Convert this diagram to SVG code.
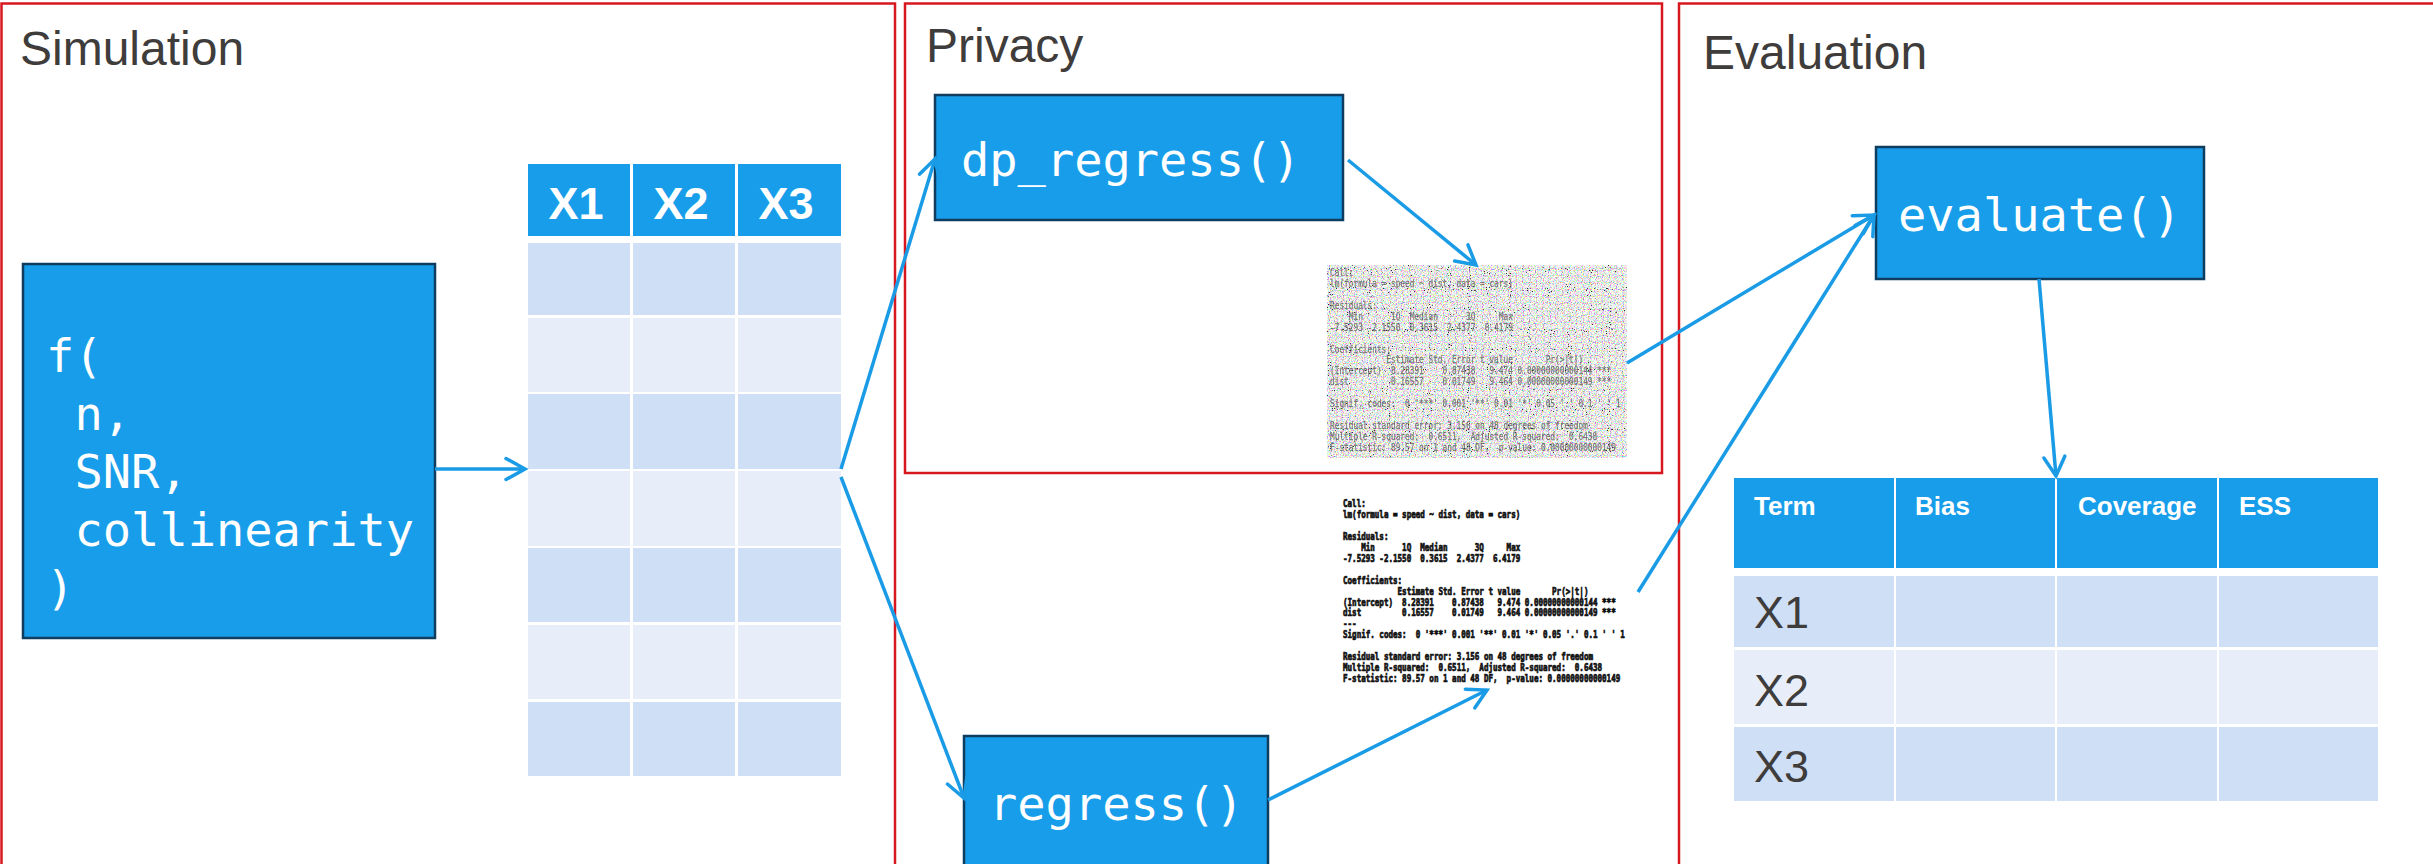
<svg xmlns="http://www.w3.org/2000/svg" width="2433" height="864" viewBox="0 0 2433 864">
  <style>
    .frame { fill: none; stroke: #d7191f; stroke-width: 2.5; }
    .title { font-family: "Liberation Sans", Arial, sans-serif; font-size: 48px; fill: #3f3c3c; }
    .fn { fill: #189dea; stroke: #0f3d5f; stroke-width: 2.5; }
    .code { font-family: "DejaVu Sans Mono", monospace; font-size: 47px; fill: #ffffff; }
    .hdr { fill: #189dea; }
    .rowA { fill: #cfdff5; }
    .rowB { fill: #e7eef9; }
    .hdrtxt { font-family: "Liberation Sans", Arial, sans-serif; font-weight: bold; fill: #ffffff; }
    .rowtxt { font-family: "Liberation Sans", Arial, sans-serif; font-size: 45px; fill: #3f3c3c; }
    .conn { fill: none; stroke: #1a9be6; stroke-width: 3.5; marker-end: url(#chev); }
    .rout { font-family: "DejaVu Sans Mono", monospace; font-size: 10px; white-space: pre; }
    .rclean { font-weight: bold; fill: #111111; stroke: #111111; stroke-width: 0.7; }
    .rnoisy { fill: #3a3a3a; stroke: #3a3a3a; stroke-width: 0.25; opacity: 0.9; }
  </style>
  <defs>
    <marker id="chev" markerUnits="userSpaceOnUse" markerWidth="26" markerHeight="26" viewBox="0 0 26 26" refX="22" refY="13" orient="auto">
      <path d="M3,2.5 L22,13 L3,23.5" fill="none" stroke="#1a9be6" stroke-width="3.5" stroke-linecap="round" stroke-linejoin="miter"/>
    </marker>
    <!-- pastel colour grain -->
    <filter id="grain" x="0" y="0" width="100%" height="100%" color-interpolation-filters="sRGB">
      <feTurbulence type="fractalNoise" baseFrequency="0.85" numOctaves="1" seed="7" result="n"/>
      <feColorMatrix in="n" type="matrix" values="2.1 0 0 0 -0.08  0 2.1 0 0 -0.08  0 0 2.1 0 -0.08  0 0 0 0 1" result="c"/>
      <feComposite in="c" in2="SourceGraphic" operator="in"/>
    </filter>
    <!-- sparse dark specks -->
    <filter id="specks" x="0" y="0" width="100%" height="100%" color-interpolation-filters="sRGB">
      <feTurbulence type="fractalNoise" baseFrequency="0.95" numOctaves="1" seed="23" result="n"/>
      <feColorMatrix in="n" type="matrix" values="0 0 0 0 0.2  0 0 0 0 0.2  0 0 0 0 0.22  -25 0 0 0 7.2" result="c"/>
      <feComposite in="c" in2="SourceGraphic" operator="in"/>
    </filter>
  </defs>

  <rect width="2433" height="864" fill="#ffffff"/>

  <!-- section frames -->
  <g id="frames">
    <rect class="frame" x="1.5" y="3.5" width="893.5" height="900"/>
    <rect class="frame" x="905" y="3.5" width="757" height="469.5"/>
    <rect class="frame" x="1679" y="3.5" width="800" height="900"/>
  </g>

  <g id="titles">
    <text class="title" x="20" y="65">Simulation</text>
    <text class="title" x="926" y="62">Privacy</text>
    <text class="title" x="1703" y="69">Evaluation</text>
  </g>

  <!-- simulation function -->
  <g id="simulate">
    <rect class="fn" x="23" y="264" width="412" height="374"/>
    <text class="code" x="46" y="372">f(</text>
    <text class="code" x="74.5" y="430">n,</text>
    <text class="code" x="74.5" y="488">SNR,</text>
    <text class="code" x="74.5" y="546">collinearity</text>
    <text class="code" x="46" y="604">)</text>
  </g>

  <!-- simulated data -->
  <g id="data-table">
    <rect class="hdr" x="528" y="164" width="102" height="72"/>
    <rect class="hdr" x="633" y="164" width="102" height="72"/>
    <rect class="hdr" x="738" y="164" width="103" height="72"/>
    <text class="hdrtxt" x="576" y="219" font-size="45" text-anchor="middle">X1</text>
    <text class="hdrtxt" x="681" y="219" font-size="45" text-anchor="middle">X2</text>
    <text class="hdrtxt" x="786" y="219" font-size="45" text-anchor="middle">X3</text>
    <g class="rowA">
      <rect x="528" y="243" width="102" height="72"/><rect x="633" y="243" width="102" height="72"/><rect x="738" y="243" width="103" height="72"/>
      <rect x="528" y="394" width="102" height="75"/><rect x="633" y="394" width="102" height="75"/><rect x="738" y="394" width="103" height="75"/>
      <rect x="528" y="548" width="102" height="74"/><rect x="633" y="548" width="102" height="74"/><rect x="738" y="548" width="103" height="74"/>
      <rect x="528" y="702" width="102" height="74"/><rect x="633" y="702" width="102" height="74"/><rect x="738" y="702" width="103" height="74"/>
    </g>
    <g class="rowB">
      <rect x="528" y="318" width="102" height="74"/><rect x="633" y="318" width="102" height="74"/><rect x="738" y="318" width="103" height="74"/>
      <rect x="528" y="471" width="102" height="75"/><rect x="633" y="471" width="102" height="75"/><rect x="738" y="471" width="103" height="75"/>
      <rect x="528" y="625" width="102" height="74"/><rect x="633" y="625" width="102" height="74"/><rect x="738" y="625" width="103" height="74"/>
    </g>
  </g>

  <!-- private regression -->
  <g id="dp-regress">
    <rect class="fn" x="935" y="95" width="408" height="125"/>
    <text class="code" x="961" y="176">dp_regress()</text>
  </g>

  <!-- noisy model summary -->
  <g id="noisy-summary">
    <rect x="1327" y="265" width="300" height="193" fill="#ffffff" filter="url(#grain)"/>
    <g transform="translate(1330,0) scale(0.78,1)">
      <text class="rout rnoisy" x="0" y="276.5">Call:</text>
      <text class="rout rnoisy" x="0" y="287.4">lm(formula = speed ~ dist, data = cars)</text>
      <text class="rout rnoisy" x="0" y="309.1">Residuals:</text>
      <text class="rout rnoisy" x="0" y="320">    Min      1Q  Median      3Q     Max</text>
      <text class="rout rnoisy" x="0" y="330.9">-7.5293 -2.1550  0.3615  2.4377  6.4179</text>
      <text class="rout rnoisy" x="0" y="352.6">Coefficients:</text>
      <text class="rout rnoisy" x="0" y="363.5">            Estimate Std. Error t value       Pr(&gt;|t|)</text>
      <text class="rout rnoisy" x="0" y="374.4">(Intercept)  8.28391    0.87438   9.474 0.00000000000144 ***</text>
      <text class="rout rnoisy" x="0" y="385.3">dist         0.16557    0.01749   9.464 0.00000000000149 ***</text>
      <text class="rout rnoisy" x="0" y="407">Signif. codes:  0 '***' 0.001 '**' 0.01 '*' 0.05 '.' 0.1 ' ' 1</text>
      <text class="rout rnoisy" x="0" y="428.8">Residual standard error: 3.156 on 48 degrees of freedom</text>
      <text class="rout rnoisy" x="0" y="439.7">Multiple R-squared:  0.6511,  Adjusted R-squared:  0.6438</text>
      <text class="rout rnoisy" x="0" y="450.6">F-statistic: 89.57 on 1 and 48 DF,  p-value: 0.00000000000149</text>
    </g>
    <rect x="1327" y="265" width="300" height="193" fill="#ffffff" filter="url(#grain)" opacity="0.3"/>
    <rect x="1327" y="265" width="300" height="193" fill="#ffffff" filter="url(#specks)"/>
  </g>

  <!-- plain regression -->
  <g id="regress">
    <rect class="fn" x="964" y="736" width="304" height="150"/>
    <text class="code" x="989" y="820">regress()</text>
  </g>

  <!-- plain model summary -->
  <g id="clean-summary" transform="translate(1343,0) scale(0.755,1)">
    <text class="rout rclean" x="0" y="507">Call:</text>
    <text class="rout rclean" x="0" y="518">lm(formula = speed ~ dist, data = cars)</text>
    <text class="rout rclean" x="0" y="539.9">Residuals:</text>
    <text class="rout rclean" x="0" y="550.8">    Min      1Q  Median      3Q     Max</text>
    <text class="rout rclean" x="0" y="561.8">-7.5293 -2.1550  0.3615  2.4377  6.4179</text>
    <text class="rout rclean" x="0" y="583.7">Coefficients:</text>
    <text class="rout rclean" x="0" y="594.6">            Estimate Std. Error t value       Pr(&gt;|t|)</text>
    <text class="rout rclean" x="0" y="605.6">(Intercept)  8.28391    0.87438   9.474 0.00000000000144 ***</text>
    <text class="rout rclean" x="0" y="616.5">dist         0.16557    0.01749   9.464 0.00000000000149 ***</text>
    <text class="rout rclean" x="0" y="627.5">---</text>
    <text class="rout rclean" x="0" y="638.4">Signif. codes:  0 '***' 0.001 '**' 0.01 '*' 0.05 '.' 0.1 ' ' 1</text>
    <text class="rout rclean" x="0" y="660.3">Residual standard error: 3.156 on 48 degrees of freedom</text>
    <text class="rout rclean" x="0" y="671.3">Multiple R-squared:  0.6511,  Adjusted R-squared:  0.6438</text>
    <text class="rout rclean" x="0" y="682.2">F-statistic: 89.57 on 1 and 48 DF,  p-value: 0.00000000000149</text>
  </g>

  <!-- evaluation -->
  <g id="evaluate">
    <rect class="fn" x="1876" y="147" width="328" height="132"/>
    <text class="code" x="1898" y="231">evaluate()</text>
  </g>

  <g id="metrics-table">
    <rect class="hdr" x="1734" y="478" width="160" height="90"/>
    <rect class="hdr" x="1896" y="478" width="159" height="90"/>
    <rect class="hdr" x="2057" y="478" width="160" height="90"/>
    <rect class="hdr" x="2219" y="478" width="159" height="90"/>
    <text class="hdrtxt" x="1754" y="515" font-size="26">Term</text>
    <text class="hdrtxt" x="1915" y="515" font-size="26">Bias</text>
    <text class="hdrtxt" x="2078" y="515" font-size="26">Coverage</text>
    <text class="hdrtxt" x="2239" y="515" font-size="26">ESS</text>
    <g class="rowA">
      <rect x="1734" y="576" width="160" height="71"/><rect x="1896" y="576" width="159" height="71"/><rect x="2057" y="576" width="160" height="71"/><rect x="2219" y="576" width="159" height="71"/>
      <rect x="1734" y="727" width="160" height="74"/><rect x="1896" y="727" width="159" height="74"/><rect x="2057" y="727" width="160" height="74"/><rect x="2219" y="727" width="159" height="74"/>
    </g>
    <g class="rowB">
      <rect x="1734" y="650" width="160" height="74"/><rect x="1896" y="650" width="159" height="74"/><rect x="2057" y="650" width="160" height="74"/><rect x="2219" y="650" width="159" height="74"/>
    </g>
    <text class="rowtxt" x="1754" y="628">X1</text>
    <text class="rowtxt" x="1754" y="706">X2</text>
    <text class="rowtxt" x="1754" y="782">X3</text>
  </g>

  <!-- connectors -->
  <g id="connectors">
    <line class="conn" x1="435" y1="469" x2="525" y2="469"/>
    <line class="conn" x1="841" y1="469" x2="935" y2="159"/>
    <line class="conn" x1="841" y1="477" x2="964" y2="798"/>
    <line class="conn" x1="1348" y1="160" x2="1476" y2="265"/>
    <line class="conn" x1="1268" y1="800" x2="1487" y2="690"/>
    <line class="conn" x1="1627" y1="363" x2="1874" y2="215"/>
    <line class="conn" x1="1638" y1="592" x2="1874" y2="215"/>
    <line class="conn" x1="2039" y1="279" x2="2056" y2="476"/>
  </g>
</svg>
